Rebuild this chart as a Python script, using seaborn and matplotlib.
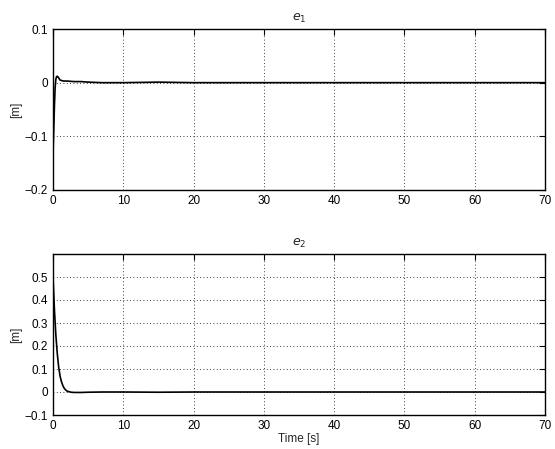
import numpy as np
import pandas as pd
import matplotlib.pyplot as plt
import seaborn as sns

# error e1 [m] over time
t1 = [0, 0.1, 0.2, 0.3, 0.4, 0.5, 0.6, 0.7, 0.8, 0.9, 1.0, 1.2, 1.5, 2, 3, 4,
      5, 7, 10, 15, 20, 25, 30, 40, 50, 60, 70]
e1 = [-0.135, -0.09, -0.045, -0.01, 0.006, 0.011, 0.012, 0.011, 0.009, 0.007,
      0.005, 0.004, 0.003, 0.003, 0.002, 0.002, 0.001, 0.0, 0.0, 0.001, 0.0,
      0.0, 0.0, 0.0, 0.0, 0.0, 0.0]

# error e2 [m] over time
t2 = [0, 0.2, 0.4, 0.6, 0.8, 1.0, 1.2, 1.4, 1.6, 1.8, 2.0, 2.3, 2.6, 3, 4, 5,
      7, 10, 15, 20, 30, 40, 50, 60, 70]
e2 = [0.5, 0.36, 0.25, 0.17, 0.11, 0.07, 0.045, 0.028, 0.016, 0.009, 0.004,
      0.001, -0.001, -0.002, -0.002, -0.001, 0.0, 0.0, -0.001, 0.0, 0.0, 0.0,
      0.0, 0.0, 0.0]

sns.set_style('white')
plt.rcParams['font.family'] = ['Liberation Sans', 'DejaVu Sans']
plt.rcParams['font.size'] = 8.5
plt.rcParams['xtick.major.size'] = 4
plt.rcParams['ytick.major.size'] = 4

fig = plt.figure(figsize=(5.55, 4.49), dpi=100)
ax1 = fig.add_axes([53/555, 1 - 190/449, 492/555, 161/449])
ax2 = fig.add_axes([53/555, 1 - 415/449, 492/555, 161/449])

df1 = pd.DataFrame({'t': t1, 'e': e1})
df2 = pd.DataFrame({'t': t2, 'e': e2})

sns.lineplot(data=df1, x='t', y='e', ax=ax1, color='black', linewidth=1.2)
sns.lineplot(data=df2, x='t', y='e', ax=ax2, color='black', linewidth=1.2)

ax1.set_ylim(-0.2, 0.1)
ax1.set_yticks([-0.2, -0.1, 0, 0.1])
ax1.set_yticklabels(['\u22120.2', '\u22120.1', '0', '0.1'])
ax2.set_ylim(-0.1, 0.6)
ax2.set_yticks([-0.1, 0, 0.1, 0.2, 0.3, 0.4, 0.5])
ax2.set_yticklabels(['\u22120.1', '0', '0.1', '0.2', '0.3', '0.4', '0.5'])

for ax, title in [(ax1, '$e_1$'), (ax2, '$e_2$')]:
    ax.set_xlim(0, 70)
    ax.set_xticks(range(0, 71, 10))
    ax.set_title(title, fontsize=9, pad=6)
    ax.set_ylabel('[m]', labelpad=2)
    ax.set_xlabel('')
    ax.grid(True, linestyle=(0, (1, 3)), color='black', linewidth=0.6)
    ax.tick_params(direction='in', top=True, right=True, length=4,
                   width=0.8, labelsize=8.5, colors='black')
    for s in ax.spines.values():
        s.set_linewidth(1.0)
        s.set_color('black')
        s.set_visible(True)

ax2.set_xlabel('Time [s]', labelpad=1)

fig.savefig('out.png', dpi=100)
